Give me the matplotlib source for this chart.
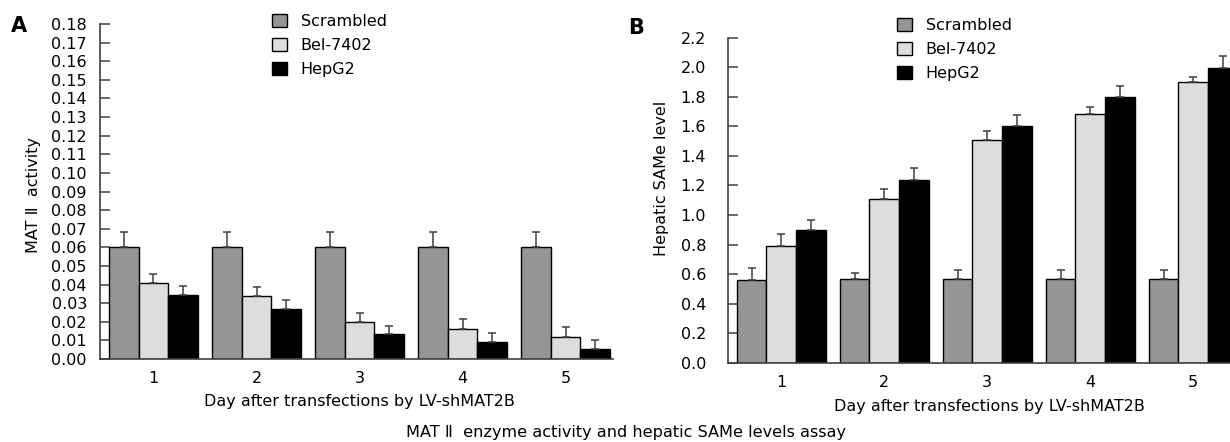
import numpy as np
import matplotlib
matplotlib.use('Agg')
import matplotlib.pyplot as plt
from matplotlib.patches import Patch

# dados
dias = [1, 2, 3, 4, 5]
grupos = ['Scrambled', 'Bel-7402', 'HepG2']
cores = ['#959595', '#dcdddc', '#000000']

# painel A - atividade MAT II
mat_scrambled = [0.060, 0.060, 0.060, 0.060, 0.060]
mat_scrambled_err = [0.0085, 0.0085, 0.0085, 0.0085, 0.0085]
mat_bel = [0.041, 0.0337, 0.0197, 0.016, 0.012]
mat_bel_err = [0.0045, 0.005, 0.0049, 0.0053, 0.005]
mat_hepg2 = [0.0344, 0.0269, 0.0134, 0.0093, 0.0054]
mat_hepg2_err = [0.0048, 0.005, 0.0045, 0.0048, 0.005]

# painel B - nível hepático de SAMe
same_scrambled = [0.562, 0.569, 0.569, 0.569, 0.569]
same_scrambled_err = [0.082, 0.038, 0.061, 0.061, 0.061]
same_bel = [0.789, 1.11, 1.507, 1.686, 1.897]
same_bel_err = [0.084, 0.067, 0.063, 0.042, 0.038]
same_hepg2 = [0.90, 1.24, 1.60, 1.796, 1.994]
same_hepg2_err = [0.063, 0.08, 0.08, 0.077, 0.08]

plt.rcParams['font.family'] = ['DejaVu Sans']
FS = 11.5
COR_EIXO = '#404040'

fig = plt.figure(figsize=(12.3, 4.42), dpi=100)
W, H = 1230, 442

ax_a = fig.add_axes([100 / W, 1 - 359 / H, 513 / W, 335 / H])
ax_b = fig.add_axes([727.7 / W, 1 - 362.7 / H, 513 / W, 325 / H])

largura = 0.288
x = np.array(dias, dtype=float)


def desenhar(ax, series, erros, ylim, yticks, fmt, pad_y):
    for i, (vals, errs) in enumerate(zip(series, erros)):
        pos = x + (i - 1) * largura
        ax.bar(pos, vals, width=largura, color=cores[i],
               edgecolor='black', linewidth=1.0, zorder=2)
        ax.errorbar(pos, vals, yerr=[np.zeros(len(errs)), errs], fmt='none',
                    ecolor=COR_EIXO, elinewidth=1.1, capsize=3.2,
                    capthick=1.1, zorder=3)
    ax.set_xlim(0.481, 5.46)
    ax.set_ylim(*ylim)
    ax.set_xticks(dias)
    ax.set_yticks(yticks)
    ax.set_yticklabels([fmt.format(v) for v in yticks])
    for s in ['top', 'right']:
        ax.spines[s].set_visible(False)
    for s in ['left', 'bottom']:
        ax.spines[s].set_color(COR_EIXO)
        ax.spines[s].set_linewidth(1.2)
    ax.tick_params(axis='y', direction='in', length=7, width=1.1,
                   color=COR_EIXO, labelsize=FS, pad=pad_y)
    ax.tick_params(axis='x', length=0, labelsize=FS, pad=8.5)


desenhar(ax_a, [mat_scrambled, mat_bel, mat_hepg2],
         [mat_scrambled_err, mat_bel_err, mat_hepg2_err],
         (0, 0.18), np.round(np.arange(0, 0.181, 0.01), 2), '{:.2f}', 9.4)
desenhar(ax_b, [same_scrambled, same_bel, same_hepg2],
         [same_scrambled_err, same_bel_err, same_hepg2_err],
         (0, 2.2), np.round(np.arange(0, 2.21, 0.2), 1), '{:.1f}', 15.5)

ax_a.set_ylabel('MAT Ⅱ  activity', fontsize=FS, va='center')
ax_a.yaxis.set_label_coords(-0.1306, 0.49)
ax_b.set_ylabel('Hepatic SAMe level', fontsize=FS, va='center')
ax_b.yaxis.set_label_coords(-0.130, 0.567)

ax_a.set_xlabel('Day after transfections by LV-shMAT2B', fontsize=FS, va='center')
ax_a.xaxis.set_label_coords(0.506, -0.128)
ax_b.set_xlabel('Day after transfections by LV-shMAT2B', fontsize=FS, va='center')
ax_b.xaxis.set_label_coords(0.510, -0.136)

# legendas
handles = [Patch(facecolor=c, edgecolor='black', linewidth=1.0) for c in cores]
for ax, (lx, ly) in [(ax_a, (272, 14)), (ax_b, (897, 18))]:
    ax.legend(handles, grupos, loc='upper left',
              bbox_to_anchor=(lx / W, 1 - ly / H), bbox_transform=fig.transFigure,
              frameon=False, fontsize=FS, borderpad=0, borderaxespad=0,
              handlelength=0.94, handleheight=0.9, handletextpad=0.85,
              labelspacing=0.55)

fig.text(19 / W, 1 - 25.5 / H, 'A', fontsize=15, fontweight='bold',
         ha='center', va='center')
fig.text(636 / W, 1 - 28 / H, 'B', fontsize=15, fontweight='bold',
         ha='center', va='center')

fig.text(626 / W, 1 - 432 / H, 'MAT Ⅱ  enzyme activity and hepatic SAMe levels assay',
         fontsize=11.6, ha='center', va='center')

fig.savefig('out.png', dpi=100)
